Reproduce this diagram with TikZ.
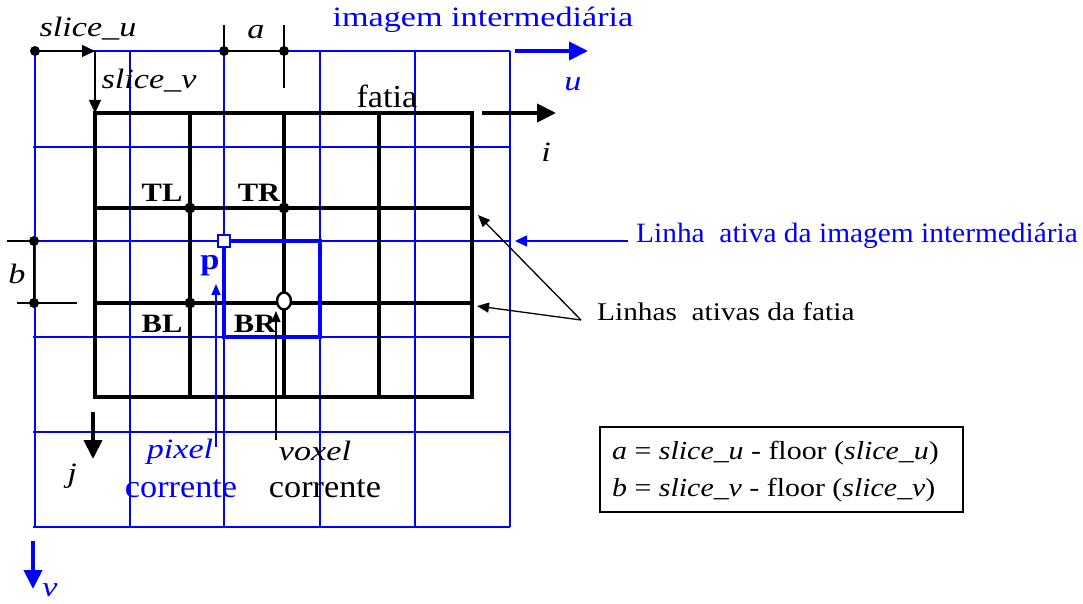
\documentclass[tikz,border=0pt]{standalone}
\usepackage{fontspec}
\setmainfont{Liberation Serif}[FakeStretch=1.22]
\newfontfamily\stA{Liberation Serif}[FakeStretch=1.05]
\newfontfamily\stB{Liberation Serif}[FakeStretch=1.15]
\newfontfamily\stC{Liberation Serif}[FakeStretch=1.07]
\usetikzlibrary{arrows.meta,shapes.geometric}
\definecolor{ib}{RGB}{0,0,255}
\begin{document}
\begin{tikzpicture}[x=1pt,y=-1pt,
  bgrid/.style={ib,line width=1.5pt},
  fgrid/.style={black,line width=4pt},
  thinarr/.style={black,line width=1.3pt,-{Triangle[length=13pt,width=12pt]}},
  bigarr/.style={line width=4pt,-{Triangle[length=19pt,width=18pt]}},
  dot/.style={circle,fill=black,inner sep=0pt,minimum size=11pt},
  lbl/.style={inner sep=0pt,font=\fontsize{28}{32}\selectfont},
  ilbl/.style={lbl,font=\fontsize{28}{32}\selectfont\itshape},
  tlbl/.style={lbl,font=\stC\fontsize{32}{34}\selectfont},
  blbl/.style={lbl,font=\stB\fontsize{26.5}{30}\selectfont\bfseries},
  dim/.style={black,line width=1.3pt}]
\useasboundingbox (0,0) rectangle (1083,604);
% blue grid (intermediate image)
\foreach \x in {35,130,224,320,415,510} \draw[bgrid] (\x,51) -- (\x,527);
\draw[bgrid] (35,51) -- (510,51);
\foreach \y in {147,241,337,432,527} \draw[bgrid] (33,\y) -- (510,\y);
% black grid (slice)
\draw[fgrid,line join=miter] (95,113) rectangle (472,397);
\foreach \x in {190,284,379} \draw[fgrid] (\x,113) -- (\x,397);
\foreach \y in {208,303} \draw[fgrid] (95,\y) -- (472,\y);
% current pixel footprint
\draw[ib,line width=4pt] (224,241) rectangle (320,337);
\node[draw=ib,fill=white,line width=1.5pt,inner sep=0pt,minimum size=12pt] (pix) at (224,241) {};
% sample dots
\node[dot] (TLd) at (190,208) {};
\node[dot] (TRd) at (284,208) {};
\node[dot] (BLd) at (190,303) {};
\node[draw,fill=white,line width=2.4pt,ellipse,inner sep=0pt,minimum width=14pt,minimum height=17pt] (vox) at (284,301) {};
\node[blbl] (TL) at (162,193) {TL};
\node[blbl] (TR) at (259,193) {TR};
\node[blbl] (BL) at (162,324) {BL};
\node[blbl] (BR) at (255,324) {BR};
\node[blbl,text=ib,font=\stB\fontsize{30}{32}\selectfont\bfseries] (p) at (210,266) {p};
% slice_u / slice_v offsets
\node[dot,minimum size=10pt] (o) at (35,51) {};
\coordinate (su) at (95,51);
\coordinate (sv) at (95,113);
\draw[thinarr] (o.center) -- (su);
\draw[thinarr] (su) -- (sv);
\node[ilbl] (slu) at (88,29) {slice\_u};
\node[ilbl] (slv) at (149,81) {slice\_v};
% dimension a
\node[dot,minimum size=10pt] (a1) at (224,51) {};
\node[dot,minimum size=10pt] (a2) at (284,51) {};
\coordinate (a1t) at (224,25);
\coordinate (a2t) at (284,25);
\coordinate (a2b) at (284,88);
\draw[dim] (a1t) -- (a1.center) -- (a2.center);
\draw[dim] (a2t) -- (a2b);
\node[ilbl] (a) at (256,32) {a};
% dimension b
\node[dot,minimum size=10pt] (b1) at (34,241) {};
\node[dot,minimum size=10pt] (b2) at (34,303) {};
\coordinate (b1l) at (7,241);
\coordinate (b2l) at (17,303);
\coordinate (b2r) at (77,303);
\draw[dim] (b1l) -- (b1.center) -- (b2.center);
\draw[dim] (b2l) -- (b2r);
\node[ilbl] (b) at (17,274) {b};
% axes
\node[lbl,text=ib] (img) at (483,20) {imagem intermediária};
\coordinate (u0) at (515,51);
\coordinate (u1) at (588,51);
\draw[bigarr,ib] (u0) -- (u1);
\node[ilbl,text=ib] (u) at (573,84) {u};
\node[tlbl] (fatia) at (387,96) {fatia};
\coordinate (i0) at (482,113);
\coordinate (i1) at (556,113);
\draw[bigarr] (i0) -- (i1);
\node[ilbl] (i) at (546,152) {i};
\coordinate (j0) at (93,412);
\coordinate (j1) at (93,459);
\draw[bigarr] (j0) -- (j1);
\node[ilbl] (j) at (72,476) {j};
\coordinate (v0) at (33,541);
\coordinate (v1) at (33,589);
\draw[bigarr,ib] (v0) -- (v1);
\node[ilbl,text=ib] (v) at (50,590) {v};
% active lines
\node[lbl,anchor=west,text=ib,font=\stA\fontsize{28}{32}\selectfont] (lai) at (636,236) {Linha\ \ ativa da imagem intermediária};
\coordinate (lai0) at (628,241);
\coordinate (lai1) at (515,241);
\draw[ib,line width=1.5pt,-{Triangle[length=12pt,width=11pt]}] (lai0) -- (lai1);
\node[lbl,anchor=west,font=\stB\fontsize{25.5}{30}\selectfont] (laf) at (597,312) {Linhas\ \ ativas da fatia};
\coordinate (laf0) at (581,320);
\coordinate (laf1) at (478,215);
\coordinate (laf2) at (477,306);
\draw[thinarr,-{Triangle[length=12pt,width=10pt]}] (laf0) -- (laf1);
\draw[thinarr,-{Triangle[length=12pt,width=10pt]}] (laf0) -- (laf2);
% current pixel / voxel
\node[ilbl,text=ib] (pixl) at (180,452) {pixel};
\node[tlbl,text=ib] (pixc) at (181,489) {corrente};
\node[ilbl] (voxl) at (315,451) {voxel};
\node[tlbl] (voxc) at (325,489) {corrente};
\coordinate (pa0) at (216,447);
\coordinate (pa1) at (216,284);
\draw[ib,line width=1.5pt,-{Triangle[length=11pt,width=9pt]}] (pa0) -- (pa1);
\coordinate (va0) at (276,440);
\coordinate (va1) at (276,311);
\draw[black,line width=1.3pt,-{Triangle[length=11pt,width=9pt]}] (va0) -- (va1);
% formula box
\node[draw,line width=1.2pt,minimum width=363pt,minimum height=85pt,inner sep=0pt] (box) at (781.5,469.5) {};
\node[lbl,anchor=west,font=\stB\fontsize{26}{30}\selectfont] (f1) at (612,453) {\textit{a} = \textit{slice\_u} - floor (\textit{slice\_u})};
\node[lbl,anchor=west,font=\stB\fontsize{26}{30}\selectfont] (f2) at (612,490) {\textit{b} = \textit{slice\_v} - floor (\textit{slice\_v})};
\end{tikzpicture}
\end{document}
